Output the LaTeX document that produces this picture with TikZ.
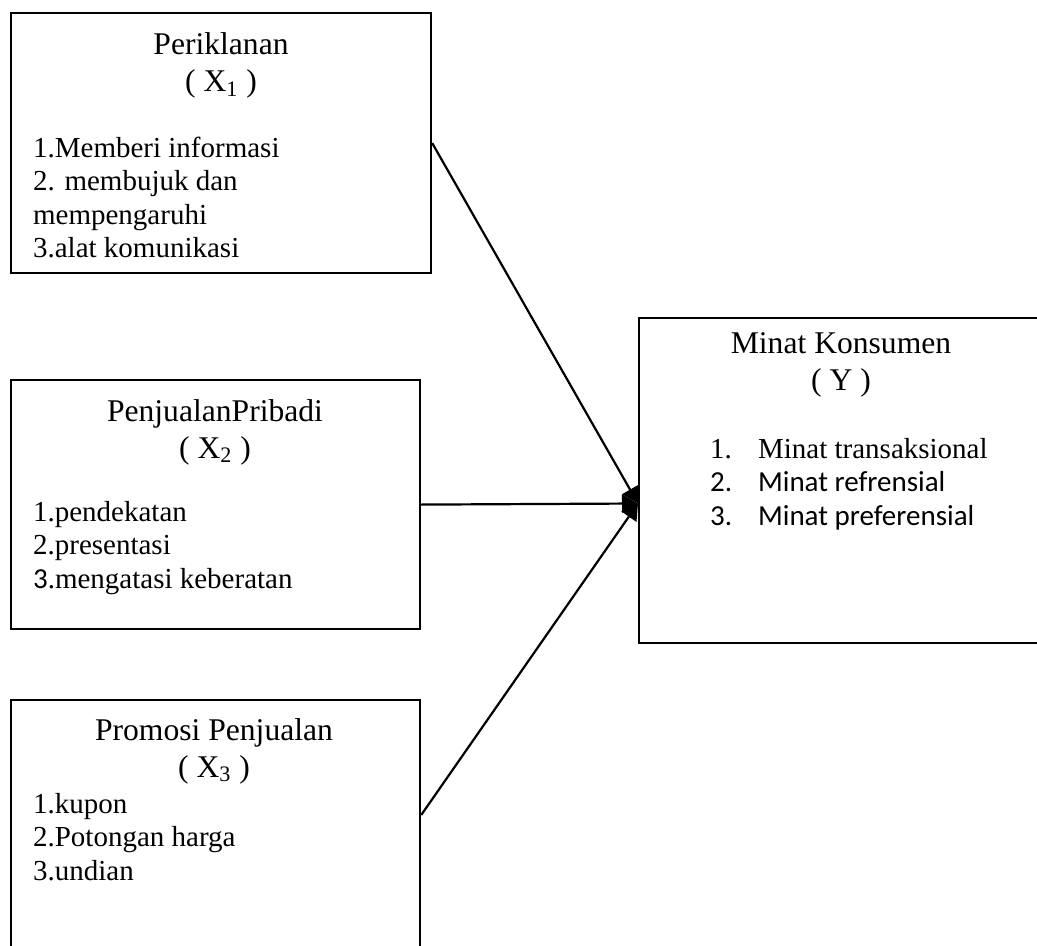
\documentclass[tikz,border=0pt]{standalone}
\usepackage{fontspec}
\setmainfont{Liberation Serif}
\newfontfamily\carlito{Carlito}
\usetikzlibrary{arrows.meta}

\begin{document}
\begin{tikzpicture}[x=0.5pt, y=-0.5pt, line width=1.1pt,
    kotak/.style = {draw, rectangle, anchor=north west, inner sep=0pt},
    judul/.style = {align=center, anchor=base, inner sep=0pt, font=\fontsize{15.8}{18.5}\selectfont},
    isi/.style = {align=left, anchor=base west, inner sep=0pt, font=\fontsize{14.5}{16.75}\selectfont},
    panah/.style = {-{Triangle[length=8pt, width=9pt]}}]
  \clip (0,0) rectangle (1037,946);
  % kotak variabel
  \node[kotak, minimum width=210pt, minimum height=130pt] (x1) at (10,12) {};
  \node[kotak, minimum width=204.5pt, minimum height=124.5pt] (x2) at (10,379) {};
  \node[kotak, minimum width=204.5pt, minimum height=140pt] (x3) at (10,699) {};
  \node[kotak, minimum width=211pt, minimum height=162.5pt] (y) at (638,317) {};
  % judul
  \node[judul] (j1) at ([shift={(211,80)}]x1.north west) {Periklanan\\( X\textsubscript{1} )};
  \node[judul] (j2) at ([shift={(205,79)}]x2.north west) {PenjualanPribadi\\( X\textsubscript{2} )};
  \node[judul] (j3) at ([shift={(204,78)}]x3.north west) {Promosi Penjualan\\( X\textsubscript{3} )};
  \node[judul] (jy) at ([shift={(203,73)}]y.north west) {Minat Konsumen\\( Y )};
  % indikator
  \node[isi] (i1) at ([shift={(22,246)}]x1.north west) {1.Memberi informasi\\2. membujuk dan\\mempengaruhi\\3.alat komunikasi};
  \node[isi] (i2) at ([shift={(22,209)}]x2.north west) {1.pendekatan\\2.presentasi\\{\carlito 3}.mengatasi keberatan};
  \node[isi] (i3) at ([shift={(22,181)}]x3.north west) {1.kupon\\2.Potongan harga\\3.undian};
  \node[isi] (iy) at ([shift={(71,208)}]y.north west) {\makebox[24pt][l]{1.}Minat transaksional\\
    {\carlito\makebox[24pt][l]{2.}Minat refrensial}\\
    {\carlito\makebox[24pt][l]{3.}Minat preferensial}};
  % panah
  \coordinate (tip) at ([shift={(0,186.5)}]y.north west);
  \coordinate (p3) at ([shift={(0,116)}]x3.north east);
  \draw[panah] (x1.east) -- (tip);
  \draw[panah] (x2.east) -- (tip);
  \draw[panah] (p3) -- (tip);
\end{tikzpicture}
\end{document}
